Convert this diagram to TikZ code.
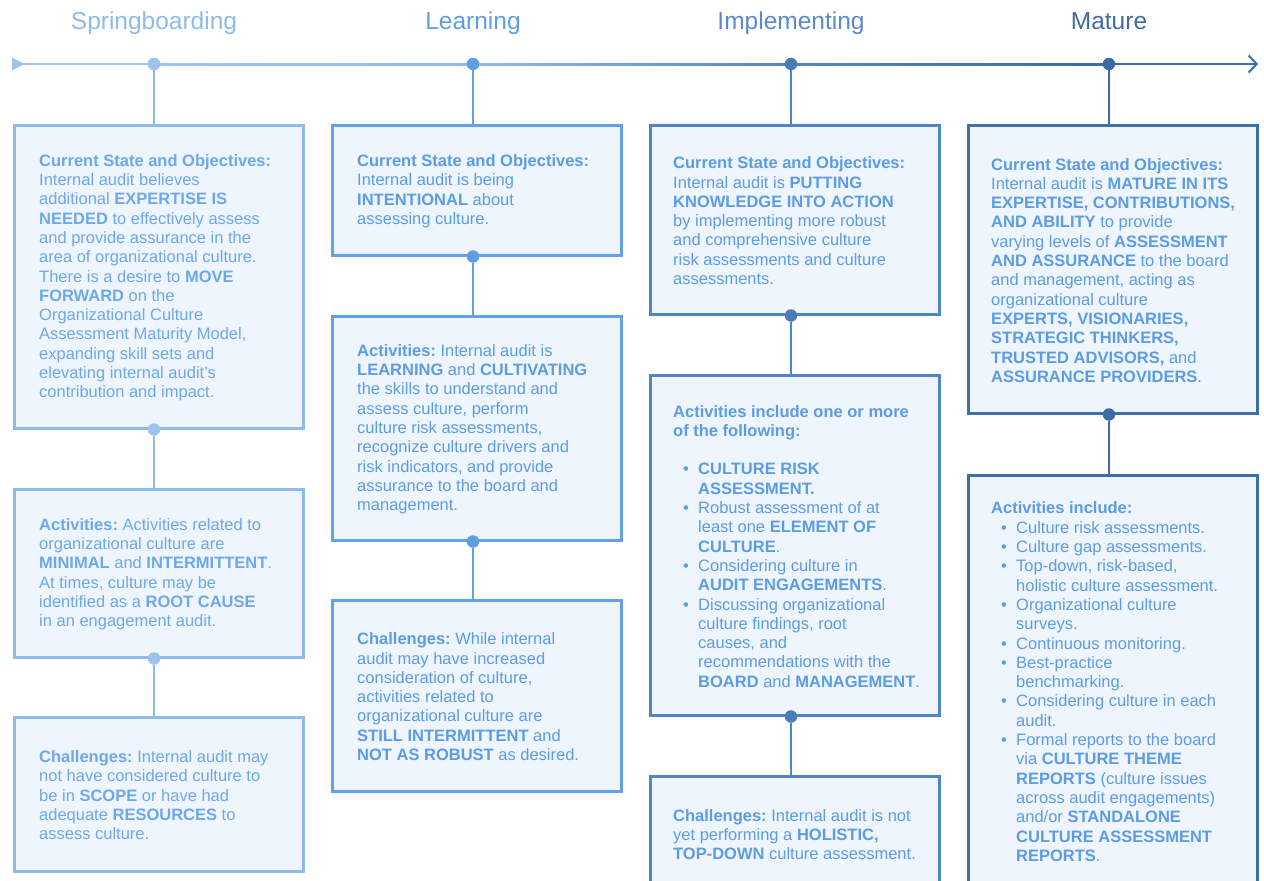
\documentclass[tikz,border=0pt]{standalone}
\usepackage{fontspec}
\setmainfont{Liberation Sans}
\usetikzlibrary{arrows.meta,positioning,calc}

\definecolor{boxfill}{HTML}{EEF5FD}
\definecolor{lineA}{HTML}{8DBBEA}
\definecolor{lineB}{HTML}{63A1E6}
\definecolor{lineC}{HTML}{5186C6}
\definecolor{lineD}{HTML}{3F6FA8}
\definecolor{textA}{HTML}{6DA8EA}
\definecolor{textB}{HTML}{5C9CE5}
\definecolor{titleA}{HTML}{8DBBEC}
\definecolor{titleB}{HTML}{5F9EE3}
\definecolor{titleC}{HTML}{5A8ACB}
\definecolor{titleD}{HTML}{3F6CA4}
\definecolor{dotA}{HTML}{9CC4EE}
\definecolor{dotB}{HTML}{5F9EE3}
\definecolor{dotC}{HTML}{4A7DB8}
\definecolor{dotD}{HTML}{3D6BA3}

\newcommand\bul{\hspace*{10pt}\makebox[15pt][l]{\textbullet}}
\newcommand\ind{\hspace*{25pt}}

\tikzset{
  stagebox/.style={draw=#1, line width=2.5pt, fill=boxfill, rectangle,
    anchor=north west, minimum width=289pt, inner sep=0pt},
  stagetext/.style={text=#1, anchor=west, align=left, inner sep=0pt, yshift=-1pt,
    font=\fontsize{16.5}{19.3}\selectfont\frenchspacing},
  stagetitle/.style={anchor=base, font=\fontsize{24.5}{28}\selectfont},
  stagedot/.style={circle, fill=#1, inner sep=0pt, minimum size=12.5pt},
  stagelink/.style={draw=#1, line width=2.2pt},
}

\begin{document}
\begin{tikzpicture}[x=1pt,y=-1pt]
\useasboundingbox (0,0) rectangle (1264,881);

% timeline
\coordinate (t0) at (12,64);
\coordinate (t5) at (1258,64);
\foreach \x [count=\i] in {154,473,791,1109} {
\coordinate (t\i) at (\x,64);
}
\fill[dotA] (t0) ++(0,-6.5) -- ++(12,6.5) -- ++(-12,6.5) -- cycle;
\draw[line width=2pt, dotA] (t0) -- (t1);
\shade[left color=dotA, right color=dotA!85!lineC] ($(t1)+(0,-1)$) rectangle ($(t2)+(0,1)$);
\shade[left color=dotA!85!lineC, right color=lineC] ($(t2)+(0,-1)$) rectangle ($(t3)+(0,1)$);
\shade[left color=lineC, right color=dotD] ($(t3)+(0,-1)$) rectangle ($(t4)+(0,1)$);
\draw[line width=2pt, dotD, -{Straight Barb[length=8pt,width=17pt]}] (t4) -- (t5);

\foreach \x/\name/\c [count=\i] in {154/Springboarding/titleA, 473/Learning/titleB, 791/Implementing/titleC, 1109/Mature/titleD} {
\node[stagetitle, text=\c] (title\i) at (\x,29.5) {\name};
}
\foreach \c [count=\i] in {dotA,dotB,dotC,dotD} {
\node[stagedot=\c] (d\i) at (t\i) {};
}

% Springboarding
\node[stagebox=lineA, minimum height=303pt] (sp1) at (13,124) {};
\node[stagebox=lineA, minimum height=168pt] (sp2) at (13,488) {};
\node[stagebox=lineA, minimum height=154pt] (sp3) at (13,716) {};
\node[stagetext=textA] (sp1txt) at ([xshift=26pt]sp1.west) {
\textbf{Current State and Objectives:}\\
Internal audit believes\\
additional \textbf{EXPERTISE IS}\\
\textbf{NEEDED} to effectively assess\\
and provide assurance in the\\
area of organizational culture.\\
There is a desire to \textbf{MOVE}\\
\textbf{FORWARD} on the\\
Organizational Culture\\
Assessment Maturity Model,\\
expanding skill sets and\\
elevating internal audit’s\\
contribution and impact.};
\node[stagetext=textA] (sp2txt) at ([xshift=26pt]sp2.west) {
\textbf{Activities:} Activities related to\\
organizational culture are\\
\textbf{MINIMAL} and \textbf{INTERMITTENT}.\\
At times, culture may be\\
identified as a \textbf{ROOT CAUSE}\\
in an engagement audit.};
\node[stagetext=textA] (sp3txt) at ([xshift=26pt]sp3.west) {
\textbf{Challenges:} Internal audit may\\
not have considered culture to\\
be in \textbf{SCOPE} or have had\\
adequate \textbf{RESOURCES} to\\
assess culture.};
\node[stagedot=dotA] (sp1dot) at (sp1.south -| d1) {};
\node[stagedot=dotA] (sp2dot) at (sp2.south -| d1) {};
\draw[stagelink=lineA] (d1) -- (sp1.north -| d1);
\draw[stagelink=lineA] (sp1dot) -- (sp2.north -| d1);
\draw[stagelink=lineA] (sp2dot) -- (sp3.north -| d1);

% Learning
\node[stagebox=lineB, minimum height=130pt] (le1) at (331,124) {};
\node[stagebox=lineB, minimum height=224pt] (le2) at (331,315) {};
\node[stagebox=lineB, minimum height=191pt] (le3) at (331,599) {};
\node[stagetext=textB] (le1txt) at ([xshift=26pt]le1.west) {
\textbf{Current State and Objectives:}\\
Internal audit is being\\
\textbf{INTENTIONAL} about\\
assessing culture.};
\node[stagetext=textB] (le2txt) at ([xshift=26pt]le2.west) {
\textbf{Activities:} Internal audit is\\
\textbf{LEARNING} and \textbf{CULTIVATING}\\
the skills to understand and\\
assess culture, perform\\
culture risk assessments,\\
recognize culture drivers and\\
risk indicators, and provide\\
assurance to the board and\\
management.};
\node[stagetext=textB] (le3txt) at ([xshift=26pt]le3.west) {
\textbf{Challenges:} While internal\\
audit may have increased\\
consideration of culture,\\
activities related to\\
organizational culture are\\
\textbf{STILL INTERMITTENT} and\\
\textbf{NOT AS ROBUST} as desired.};
\node[stagedot=dotB] (le1dot) at (le1.south -| d2) {};
\node[stagedot=dotB] (le2dot) at (le2.south -| d2) {};
\draw[stagelink=lineB] (d2) -- (le1.north -| d2);
\draw[stagelink=lineB] (le1dot) -- (le2.north -| d2);
\draw[stagelink=lineB] (le2dot) -- (le3.north -| d2);

% Implementing
\node[stagebox=lineC, minimum height=189pt] (im1) at (649,124) {};
\node[stagebox=lineC, minimum height=340pt] (im2) at (649,374) {};
\node[stagebox=lineC, minimum height=115pt] (im3) at (649,775) {};
\node[stagetext=textB] (im1txt) at ([xshift=24pt]im1.west) {
\textbf{Current State and Objectives:}\\
Internal audit is \textbf{PUTTING}\\
\textbf{KNOWLEDGE INTO ACTION}\\
by implementing more robust\\
and comprehensive culture\\
risk assessments and culture\\
assessments.};
\node[stagetext=textB] (im2txt) at ([xshift=24pt]im2.west) {
\textbf{Activities include one or more}\\
\textbf{of the following:}\\[19.3pt]
\bul\textbf{CULTURE RISK}\\
\ind\textbf{ASSESSMENT.}\\
\bul Robust assessment of at\\
\ind least one \textbf{ELEMENT OF}\\
\ind\textbf{CULTURE}.\\
\bul Considering culture in\\
\ind\textbf{AUDIT ENGAGEMENTS}.\\
\bul Discussing organizational\\
\ind culture findings, root\\
\ind causes, and\\
\ind recommendations with the\\
\ind\textbf{BOARD} and \textbf{MANAGEMENT}.};
\node[stagetext=textB] (im3txt) at ([xshift=24pt]im3.west) {
\textbf{Challenges:} Internal audit is not\\
yet performing a \textbf{HOLISTIC,}\\
\textbf{TOP-DOWN} culture assessment.};
\node[stagedot=dotC] (im1dot) at (im1.south -| d3) {};
\node[stagedot=dotC] (im2dot) at (im2.south -| d3) {};
\draw[stagelink=lineC] (d3) -- (im1.north -| d3);
\draw[stagelink=lineC] (im1dot) -- (im2.north -| d3);
\draw[stagelink=lineC] (im2dot) -- (im3.north -| d3);

% Mature
\node[stagebox=lineD, minimum height=288pt] (ma1) at (967,124) {};
\node[stagebox=lineD, minimum height=411pt] (ma2) at (967,474) {};
\node[stagetext=textB] (ma1txt) at ([xshift=24pt]ma1.west) {
\textbf{Current State and Objectives:}\\
Internal audit is \textbf{MATURE IN ITS}\\
\textbf{EXPERTISE, CONTRIBUTIONS,}\\
\textbf{AND ABILITY} to provide\\
varying levels of \textbf{ASSESSMENT}\\
\textbf{AND ASSURANCE} to the board\\
and management, acting as\\
organizational culture\\
\textbf{EXPERTS, VISIONARIES,}\\
\textbf{STRATEGIC THINKERS,}\\
\textbf{TRUSTED ADVISORS,} and\\
\textbf{ASSURANCE PROVIDERS}.};
\node[stagetext=textB] (ma2txt) at ([xshift=24pt]ma2.west) {
\textbf{Activities include:}\\
\bul Culture risk assessments.\\
\bul Culture gap assessments.\\
\bul Top-down, risk-based,\\
\ind holistic culture assessment.\\
\bul Organizational culture\\
\ind surveys.\\
\bul Continuous monitoring.\\
\bul Best-practice\\
\ind benchmarking.\\
\bul Considering culture in each\\
\ind audit.\\
\bul Formal reports to the board\\
\ind via \textbf{CULTURE THEME}\\
\ind\textbf{REPORTS} (culture issues\\
\ind across audit engagements)\\
\ind and/or \textbf{STANDALONE}\\
\ind\textbf{CULTURE ASSESSMENT}\\
\ind\textbf{REPORTS}.};
\node[stagedot=dotD] (ma1dot) at (ma1.south -| d4) {};
\draw[stagelink=lineD] (d4) -- (ma1.north -| d4);
\draw[stagelink=lineD] (ma1dot) -- (ma2.north -| d4);
\end{tikzpicture}
\end{document}
